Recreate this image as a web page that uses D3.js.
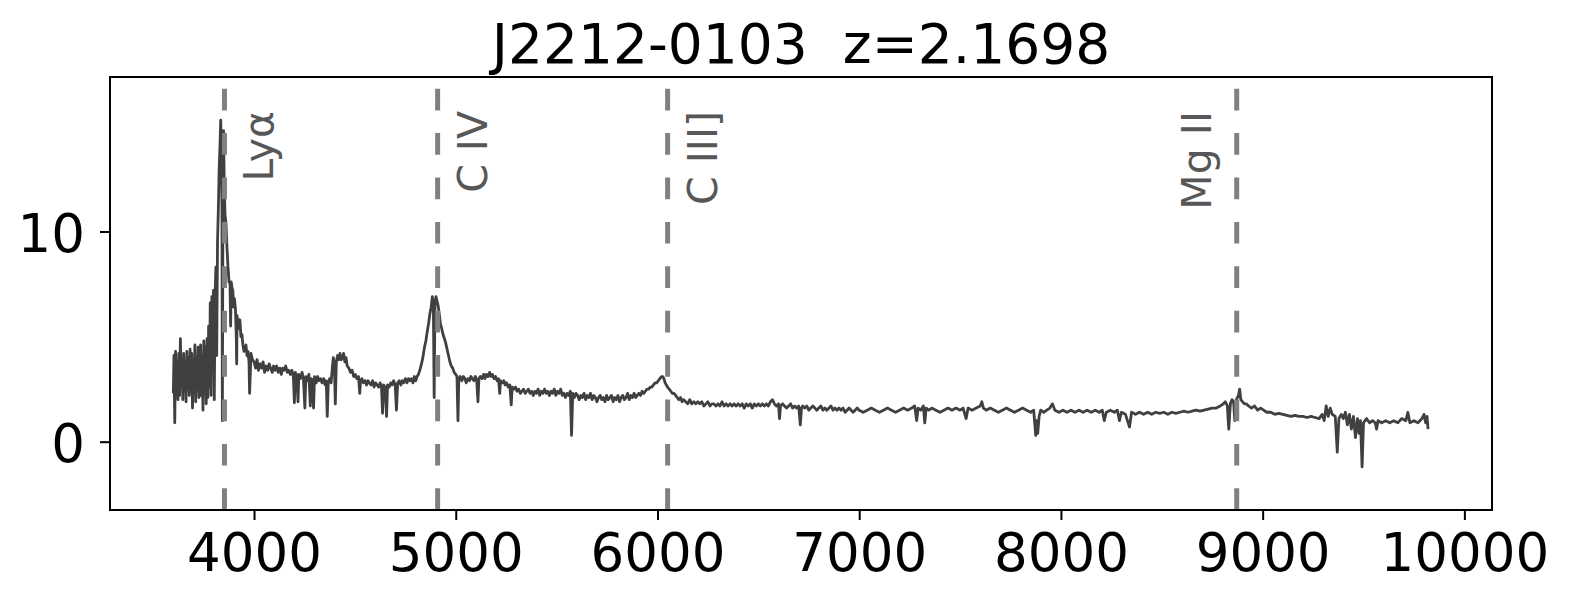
<!DOCTYPE html>
<html>
<head>
<meta charset="utf-8">
<script src="https://cdn.jsdelivr.net/npm/d3@7"></script>
<style>
  html, body { margin: 0; padding: 0; background: #ffffff; }
  svg { display: block; font-family: "DejaVu Sans", sans-serif; }
</style>
</head>
<body>
<svg id="chart" width="1572" height="603"></svg>
<script>
// ---------------- data ----------------
const chartTitle = "J2212-0103  z=2.1698";
const redshift = 2.1698;
const lineNames = ["Lyα", "C IV", "C III]", "Mg II"];
const lineRestWave = [1215.67, 1549.06, 1908.73, 2798.75];
const labelSide = ["right", "right", "right", "left"];
const xTickValues = [4000, 5000, 6000, 7000, 8000, 9000, 10000];
const yTickValues = [0, 10];
const xDomain = [3286, 10137];
const yDomain = [-3.25, 17.35];

const spectrumLyaForest = [
  [3600,2.3],[3603,4.1],[3607,0.9],[3611,4.3],[3615,2.7],[3619,3.8],[3623,2.0],[3627,4.2],
  [3631,2.2],[3635,4.9],[3639,2.6],[3643,3.9],[3647,2.0],[3651,4.2],[3655,2.9],[3659,3.5],
  [3663,1.9],[3667,4.3],[3671,2.5],[3675,4.0],[3679,2.2],[3683,4.4],[3687,2.4],[3691,4.2],
  [3695,1.6],[3699,3.6],[3703,2.8],[3707,4.6],[3711,1.9],[3715,4.0],[3719,2.5],[3723,4.5],
  [3727,2.1],[3731,3.8],[3735,4.6],[3739,2.2],[3743,4.1],[3747,1.5],[3751,4.8],[3755,2.3],
  [3759,4.5],[3763,1.8],[3767,4.9],[3771,2.1],[3775,5.5],[3779,2.6],[3783,6.6],[3787,2.2],
  [3791,6.9],[3795,3.4],[3799,7.2],[3803,2.0],[3807,7.0],[3811,8.3],[3815,4.1],[3819,9.5],
  [3823,11.0],[3827,12.9],[3831,14.0],[3835,15.3],[3838,13.5],[3841,11.2],[3843,1.0],[3846,12.0],
  [3849,14.8],[3852,12.5],[3856,10.8],[3861,10.4],[3866,9.2],[3871,8.3],[3876,7.6],[3881,7.5],
  [3884,5.5],[3887,7.6],[3891,7.3],[3895,7.2],[3899,6.4],[3903,6.8],[3908,6.3],[3912,5.0],
  [3914,3.7],[3916,6.0],[3920,5.5],[3925,5.4],[3930,5.8],[3935,5.0],[3940,5.1],[3945,4.6],
  [3950,4.3],[3955,4.5],[3960,4.6],[3965,4.1],[3970,4.3],[3975,3.8],[3978,2.3],[3985,4.2],
  [3992,3.9]
];
const spectrumBlue = [
  [4000,3.8],[4008,3.5],[4015,3.9],[4022,3.4],[4030,3.7],[4038,3.5],[4045,3.8],[4052,3.3],
  [4060,3.6],[4068,3.4],[4075,3.7],[4082,3.5],[4090,3.3],[4097,3.6],[4105,3.4],[4112,3.6],
  [4120,3.3],[4128,3.5],[4135,3.2],[4142,3.5],[4150,3.4],[4157,3.6],[4165,3.3],[4172,3.4],
  [4180,3.2],[4188,3.4],[4195,3.1],[4200,1.85],[4205,3.3],[4212,3.1],[4218,1.9],[4222,3.2],
  [4230,3.0],[4238,3.3],[4245,3.0],[4252,1.6],[4257,3.1],[4265,2.9],[4272,3.2],[4279,1.7],
  [4284,3.0],[4290,2.9],[4295,1.6],[4300,3.1],[4308,2.8],[4315,3.1],[4322,2.9],[4330,3.0],
  [4337,2.8],[4345,3.0],[4352,2.7],[4358,2.9],[4363,1.2],[4368,2.8],[4375,3.0],[4382,2.8],
  [4388,3.5],[4393,4.0],[4398,3.7],[4403,1.8],[4408,3.8],[4414,4.1],[4420,3.9],[4426,4.2],
  [4432,3.9],[4438,4.0],[4444,4.2],[4450,3.8],[4456,4.0],[4462,3.6],[4470,3.5],[4478,3.3],
  [4486,3.4],[4494,3.1],[4502,3.2],[4510,3.0],[4518,3.1],[4524,2.3],[4528,2.9],[4535,3.0],
  [4542,2.8],[4550,2.9],[4558,2.7],[4565,2.9],[4572,2.8],[4580,2.7],[4588,2.9],[4595,2.6],
  [4603,2.8],[4610,2.7],[4618,2.6],[4625,2.8],[4632,2.6],[4637,1.35],[4642,2.7],[4650,2.6],
  [4657,1.2],[4662,2.7],[4670,2.6],[4678,2.8],[4685,2.7],[4692,2.9],[4700,2.7],[4706,1.5],
  [4712,2.8],[4720,2.9],[4728,2.7],[4735,2.9],[4742,2.8],[4750,3.0],[4758,2.8],[4765,3.0],
  [4772,2.9],[4780,3.0],[4788,2.8],[4795,3.1],[4802,2.9],[4808,3.1],[4815,3.2],[4822,3.4],
  [4830,3.7],[4837,4.0],[4845,4.5],[4852,4.8],[4858,5.2],[4865,5.6],[4872,6.1],[4878,6.4],
  [4884,6.9],[4889,6.5],[4893,2.1],[4897,6.6],[4902,6.9],[4907,6.7],[4912,6.5],[4918,6.1],
  [4924,5.6],[4930,5.4],[4937,5.1],[4944,4.9],[4950,4.7],[4957,4.4],[4964,4.1],[4971,3.8],
  [4978,3.6],[4985,3.5],[4992,3.3]
];
const spectrumMid = [
  [5000,3.2],[5006,3.1],[5011,1.0],[5015,2.9],[5022,3.1],[5030,2.9],[5038,3.1],[5045,3.0],
  [5052,2.8],[5060,3.0],[5068,2.9],[5075,3.1],[5082,3.0],[5090,2.9],[5097,3.1],[5104,2.9],
  [5110,1.9],[5115,3.0],[5122,3.1],[5130,3.0],[5138,3.2],[5145,3.0],[5152,3.2],[5160,3.1],
  [5168,3.3],[5175,3.1],[5182,3.2],[5190,3.0],[5197,3.1],[5205,2.9],[5212,3.0],[5218,2.3],
  [5222,2.9],[5230,2.8],[5238,2.9],[5245,2.7],[5252,2.8],[5260,2.6],[5268,2.7],[5275,1.75],
  [5280,2.6],[5288,2.5],[5296,2.6],[5304,2.4],[5312,2.5],[5320,2.3],[5328,2.4],[5336,2.5],
  [5344,2.3],[5352,2.4],[5360,2.5],[5368,2.3],[5376,2.4],[5384,2.2],[5392,2.4],[5400,2.3],
  [5408,2.5],[5416,2.2],[5424,2.4],[5432,2.3],[5440,2.5],[5448,2.3],[5456,2.4],[5464,2.2],
  [5472,2.4],[5480,2.3],[5488,2.5],[5496,2.2],[5504,2.4],[5512,2.3],[5520,2.5],[5528,2.2],
  [5536,2.3],[5544,2.1],[5552,2.3],[5560,2.2],[5568,2.4],[5574,0.3],[5580,2.3],[5588,2.1],
  [5596,2.3],[5604,2.2],[5612,2.0],[5620,2.2],[5628,2.1],[5636,2.3],[5644,2.0],[5652,2.2],
  [5660,2.1],[5668,2.3],[5676,2.0],[5684,2.2],[5692,2.1],[5700,1.9],[5708,2.1],[5716,2.2],
  [5724,2.0],[5732,2.1],[5740,1.9],[5748,2.2],[5756,2.0],[5764,2.1],[5772,2.2],[5780,1.9],
  [5788,2.1],[5796,2.0],[5804,2.2],[5812,1.9],[5820,2.1],[5828,2.2],[5836,2.0],[5844,2.1],
  [5852,2.3],[5860,2.0],[5868,2.2],[5876,2.1],[5884,2.3],[5892,2.1],[5900,2.2],[5908,2.3],
  [5916,2.2],[5924,2.4],[5932,2.3],[5940,2.4],[5948,2.5],[5956,2.5],[5964,2.6],[5972,2.6],
  [5980,2.7],[5988,2.8],[5996,2.8],[6004,2.9],[6012,3.0],[6020,3.1],[6026,3.1],[6032,3.0],
  [6038,2.8],[6044,2.7],[6050,2.6],[6058,2.5],[6066,2.4],[6074,2.3],[6082,2.3],[6090,2.2],
  [6098,2.1],[6106,2.0],[6114,2.1],[6122,1.9],[6130,2.0],[6140,1.9],[6150,1.8],[6160,2.0],
  [6170,1.8],[6180,1.9],[6190,1.8],[6200,1.9],[6210,1.8],[6220,1.9],[6230,1.7],[6240,1.8],
  [6250,1.9],[6260,1.7],[6270,1.8],[6280,1.8],[6290,1.7],[6300,1.8],[6310,1.7],[6320,1.9],
  [6330,1.7],[6340,1.8],[6350,1.7],[6360,1.8],[6370,1.7],[6380,1.8],[6390,1.7],[6400,1.8],
  [6410,1.7],[6420,1.8],[6430,1.6],[6440,1.8],[6450,1.7],[6460,1.8],[6470,1.6],[6480,1.8],
  [6490,1.7],[6500,1.8],[6510,1.7],[6520,1.8],[6530,1.7],[6540,1.8],[6550,1.7],[6560,1.9],
  [6570,2.0],[6580,1.8],[6590,1.7],[6600,1.8],[6605,1.1],[6610,1.7],[6620,1.8],[6630,1.7],
  [6640,1.6],[6650,1.7],[6660,1.8],[6670,1.6],[6680,1.7],[6690,1.6],[6700,1.7],[6708,0.8],
  [6714,1.6],[6720,1.7],[6730,1.6],[6740,1.7],[6750,1.5],[6760,1.6],[6770,1.7],[6780,1.6],
  [6790,1.5],[6800,1.6],[6810,1.7],[6820,1.5],[6830,1.6],[6840,1.5],[6850,1.6],[6860,1.7],
  [6870,1.5],[6880,1.6],[6890,1.5],[6900,1.6],[6910,1.5],[6920,1.6],[6930,1.4],[6940,1.5],
  [6950,1.6],[6960,1.5],[6970,1.4],[6980,1.5],[6990,1.6]
];
const spectrumRed = [
  [7000,1.5],[7020,1.4],[7040,1.5],[7060,1.6],[7080,1.5],[7100,1.4],[7120,1.5],[7140,1.6],
  [7160,1.5],[7180,1.4],[7200,1.5],[7220,1.6],[7240,1.5],[7260,1.6],[7275,1.7],[7285,1.0],
  [7292,1.6],[7305,1.5],[7318,1.7],[7325,0.9],[7332,1.6],[7345,1.5],[7360,1.6],[7380,1.5],
  [7400,1.4],[7420,1.5],[7440,1.6],[7460,1.5],[7480,1.6],[7500,1.5],[7515,1.6],[7530,1.1],
  [7540,1.6],[7560,1.5],[7580,1.6],[7600,1.7],[7608,1.9],[7616,1.6],[7630,1.5],[7650,1.6],
  [7670,1.5],[7690,1.4],[7710,1.5],[7730,1.6],[7750,1.5],[7770,1.4],[7790,1.5],[7810,1.6],
  [7830,1.5],[7850,1.4],[7865,1.5],[7875,0.3],[7880,1.0],[7885,0.4],[7892,1.2],[7900,1.5],
  [7915,1.4],[7930,1.5],[7945,1.6],[7958,1.8],[7970,1.5],[7990,1.4],[8010,1.5],[8030,1.4],
  [8050,1.5],[8070,1.4],[8090,1.5],[8110,1.4],[8130,1.5],[8150,1.4],[8170,1.5],[8190,1.4],
  [8205,1.5],[8215,1.0],[8225,1.4],[8245,1.5],[8265,1.4],[8280,1.5],[8290,1.0],[8300,1.4],
  [8320,1.3],[8340,0.7],[8350,1.4],[8370,1.3],[8390,1.4],[8410,1.3],[8430,1.4],[8450,1.3],
  [8470,1.4],[8490,1.35],[8510,1.4],[8530,1.3],[8550,1.4],[8570,1.35],[8590,1.4],[8610,1.45],
  [8630,1.4],[8650,1.45],[8670,1.5],[8690,1.45],[8710,1.5],[8730,1.55],[8750,1.6],[8770,1.6],
  [8790,1.7],[8805,1.8],[8815,1.9],[8825,1.7],[8832,0.6],[8840,1.8],[8848,2.0],[8856,1.9],
  [8862,1.0],[8870,2.0],[8880,2.2],[8886,2.5],[8892,2.0],[8900,1.9],[8910,1.8],[8920,1.8],
  [8930,1.7],[8945,1.6],[8960,1.7],[8975,1.5],[8990,1.6],[9005,1.5],[9020,1.4],[9040,1.4],
  [9060,1.3],[9080,1.35],[9100,1.3],[9120,1.25],[9140,1.2],[9160,1.25],[9180,1.2],[9200,1.2],
  [9220,1.15],[9240,1.2],[9260,1.15],[9280,1.1],[9295,1.3],[9305,1.0],[9315,1.7],[9325,1.2],
  [9335,1.6],[9345,1.3],[9360,1.2],[9370,-0.5],[9378,1.1],[9390,1.3],[9400,1.1],[9410,1.4],
  [9420,0.8],[9430,1.3],[9440,0.6],[9450,1.2],[9460,0.2],[9470,1.1],[9478,0.4],[9485,1.0],
  [9493,-1.2],[9500,0.9],[9515,1.1],[9530,0.9],[9545,1.0],[9558,0.9],[9565,0.6],[9572,1.0],
  [9590,0.9],[9610,1.0],[9630,0.9],[9650,1.0],[9670,0.9],[9690,1.1],[9710,1.0],[9720,1.4],
  [9730,0.9],[9750,1.0],[9770,0.9],[9790,1.1],[9800,1.3],[9808,0.9],[9815,1.2],[9820,0.6]
];

// ---------------- layout ----------------
const svg = d3.select("#chart");
const plot = { left: 110, right: 1492, top: 77, bottom: 510 };

const x = d3.scaleLinear().domain(xDomain).range([plot.left, plot.right]);
const y = d3.scaleLinear().domain(yDomain).range([plot.bottom, plot.top]);

const spectrum = [].concat(spectrumLyaForest, spectrumBlue, spectrumMid, spectrumRed);

svg.append("clipPath").attr("id", "plotclip")
  .append("rect")
  .attr("x", plot.left).attr("y", plot.top)
  .attr("width", plot.right - plot.left).attr("height", plot.bottom - plot.top);

const g = svg.append("g").attr("clip-path", "url(#plotclip)");

// spectrum
g.append("path")
  .datum(spectrum)
  .attr("fill", "none")
  .attr("stroke", "#404040")
  .attr("stroke-width", 2.8)
  .attr("stroke-linejoin", "round")
  .attr("d", d3.line().x(d => x(d[0])).y(d => y(d[1])));

// emission line markers
const lines = lineNames.map((name, i) => ({
  name, wave: lineRestWave[i] * (1 + redshift), side: labelSide[i]
}));

g.selectAll("line.marker")
  .data(lines)
  .join("line")
  .attr("class", "marker")
  .attr("x1", d => x(d.wave)).attr("x2", d => x(d.wave))
  .attr("y1", plot.bottom).attr("y2", plot.top)
  .attr("stroke", "#808080")
  .attr("stroke-width", 5)
  .attr("stroke-dasharray", "21.7,22.7");

svg.selectAll("text.linelabel")
  .data(lines)
  .join("text")
  .attr("class", "linelabel")
  .attr("transform", d => {
    const bx = d.side === "right" ? x(d.wave) + 49 : x(d.wave) - 26;
    return `translate(${bx},111) rotate(-90)`;
  })
  .attr("text-anchor", "end")
  .attr("font-size", 41)
  .attr("fill", "#575757")
  .text(d => d.name);

// axes
const xAxis = d3.axisBottom(x).tickValues(xTickValues).tickSize(10).tickPadding(13)
  .tickFormat(d3.format("d"));
const gx = svg.append("g").attr("transform", `translate(0,${plot.bottom})`).call(xAxis);
gx.select(".domain").remove();
gx.selectAll(".tick line").attr("stroke", "#000").attr("stroke-width", 2);
gx.selectAll(".tick text").attr("font-size", 53).attr("fill", "#000")
  .attr("font-family", "DejaVu Sans, sans-serif");

const yAxis = d3.axisLeft(y).tickValues(yTickValues).tickSize(10).tickPadding(15)
  .tickFormat(d3.format("d"));
const gy = svg.append("g").attr("transform", `translate(${plot.left},0)`).call(yAxis);
gy.select(".domain").remove();
gy.selectAll(".tick line").attr("stroke", "#000").attr("stroke-width", 2);
gy.selectAll(".tick text").attr("font-size", 53).attr("fill", "#000").attr("dy", "0.37em")
  .attr("font-family", "DejaVu Sans, sans-serif");

// frame
svg.append("rect")
  .attr("x", plot.left).attr("y", plot.top)
  .attr("width", plot.right - plot.left).attr("height", plot.bottom - plot.top)
  .attr("fill", "none").attr("stroke", "#000").attr("stroke-width", 2);

// title
svg.append("text")
  .attr("x", (plot.left + plot.right) / 2)
  .attr("y", 63)
  .attr("text-anchor", "middle")
  .attr("font-size", 55)
  .attr("fill", "#000")
  .style("white-space", "pre")
  .text(chartTitle);
</script>
</body>
</html>
